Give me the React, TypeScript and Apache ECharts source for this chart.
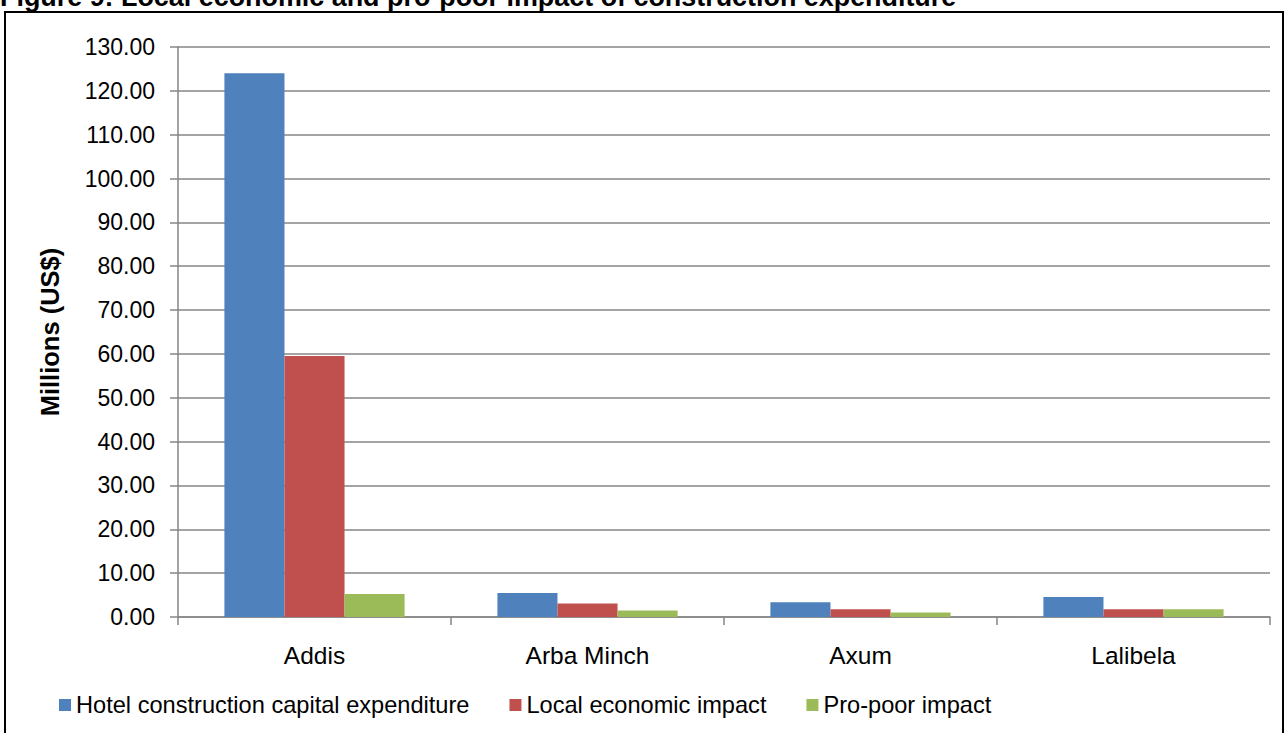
import React, { useEffect, useRef } from "react";
import * as echarts from "echarts";

// Locations and the three measures of construction spending (US$ millions)
const locations = ["Addis", "Arba Minch", "Axum", "Lalibela"];
const hotelCapex = [124.0, 5.5, 3.35, 4.55];
const localImpact = [59.5, 3.1, 1.75, 1.75];
const proPoorImpact = [5.25, 1.5, 1.05, 1.75];

const seriesNames = [
  "Hotel construction capital expenditure",
  "Local economic impact",
  "Pro-poor impact",
];
const seriesColors = ["#4F81BD", "#C0504D", "#9BBB59"];

const yMin = 0;
const yMax = 130;
const yStep = 10;

const titleText =
  "Figure 9: Local economic and pro-poor impact of construction expenditure";

const FONT = "'Liberation Sans', Arial, sans-serif";

export default function App() {
  const ref = useRef<HTMLDivElement>(null);

  useEffect(() => {
    if (!ref.current) return;
    const chart = echarts.init(ref.current, undefined, { renderer: "svg" });
    const values = [hotelCapex, localImpact, proPoorImpact];

    chart.setOption({
      animation: false,
      backgroundColor: "#ffffff",
      textStyle: { fontFamily: FONT },
      graphic: [
        {
          type: "text",
          left: 0,
          top: -17,
          z: 10,
          style: {
            text: titleText,
            font: `bold 26.9px ${FONT}`,
            fill: "#000000",
          },
        },
        {
          type: "rect",
          z: 10,
          shape: { x: 5, y: 12, width: 1278, height: 760 },
          style: { fill: "none", stroke: "#000000", lineWidth: 2 },
        },
      ],
      grid: {
        left: 178,
        right: 16,
        top: 47,
        bottom: 116,
        containLabel: false,
      },
      legend: {
        left: 54,
        top: 688,
        itemWidth: 12,
        itemHeight: 12,
        itemGap: 40,
        icon: "rect",
        textStyle: { fontSize: 23.6, color: "#000000", fontFamily: FONT },
        data: seriesNames,
      },
      xAxis: {
        type: "category",
        data: locations,
        boundaryGap: true,
        axisLine: { lineStyle: { color: "#868686", width: 1.5 } },
        axisTick: {
          show: true,
          alignWithLabel: false,
          length: 8,
          lineStyle: { color: "#868686", width: 1.5 },
        },
        axisLabel: {
          fontSize: 24.5,
          color: "#000000",
          margin: 26,
          fontFamily: FONT,
        },
      },
      yAxis: {
        type: "value",
        min: yMin,
        max: yMax,
        interval: yStep,
        name: "Millions (US$)",
        nameLocation: "middle",
        nameGap: 115,
        nameRotate: 90,
        nameTextStyle: {
          fontSize: 25.5,
          fontWeight: "bold",
          color: "#000000",
          fontFamily: FONT,
        },
        axisLine: { show: true, lineStyle: { color: "#868686", width: 1.5 } },
        axisTick: {
          show: true,
          length: 8,
          lineStyle: { color: "#868686", width: 1.5 },
        },
        axisLabel: {
          fontSize: 23,
          color: "#000000",
          margin: 23,
          fontFamily: FONT,
          formatter: (v: number) => v.toFixed(2),
        },
        splitLine: { lineStyle: { color: "#868686", width: 1.5 } },
      },
      series: seriesNames.map((name, i) => ({
        name,
        type: "bar",
        data: values[i],
        barGap: "0%",
        barCategoryGap: "34%",
        itemStyle: { color: seriesColors[i] },
      })),
    });

    return () => chart.dispose();
  }, []);

  return (
    <div
      ref={ref}
      style={{ position: "fixed", left: 0, top: 0, width: 1286, height: 733 }}
    />
  );
}
